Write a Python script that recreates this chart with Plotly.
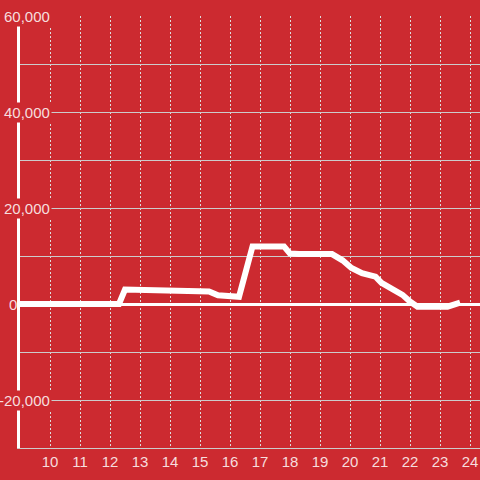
import plotly.graph_objects as go

BG_RED = "#cc2a30"
GRID_GREY = "#cccccc"
LABEL_COLOR = "rgba(255,255,255,0.85)"
FONT = "Liberation Sans, Arial"

# hour of day vs. value
hours = [
    9.0, 12.3, 12.5, 13.9, 14.0, 15.3, 15.6, 16.3, 16.75, 17.8, 18.0, 18.3,
    19.4, 19.75, 20.05, 20.4, 20.65, 20.85, 21.05, 21.4, 21.75, 22.0, 22.25,
    23.25, 23.55, 23.67,
]
values = [
    0, 0, 3000, 2900, 2600, 2600, 1800, 1500, 12000, 12000, 10500, 10400,
    10400, 9100, 7500, 6400, 6000, 5700, 4400, 3300, 1900, 500, -550,
    -550, 250, 300,
]

x_ticks = list(range(10, 25))
y_grid = list(range(-30000, 60001, 10000))
y_labels = [60000, 40000, 20000, -20000]

fig = go.Figure()
fig.add_trace(
    go.Scatter(
        x=hours,
        y=values,
        mode="lines",
        line=dict(color="white", width=6),
        hoverinfo="skip",
    )
)

# y labels sit inside the plot on a red patch that hides the lines behind them
annotations = []
for val in y_labels:
    annotations.append(
        dict(
            x=0,
            xref="paper",
            y=val,
            yref="y",
            text=f"{val:,}",
            showarrow=False,
            xanchor="right",
            xshift=32,
            bgcolor=BG_RED,
            borderpad=1,
            font=dict(family=FONT, size=15, color=LABEL_COLOR),
        )
    )
annotations.append(
    dict(
        x=0,
        xref="paper",
        y=0,
        yref="y",
        text="0",
        showarrow=False,
        xanchor="left",
        xshift=-13,
        font=dict(family=FONT, size=15, color=LABEL_COLOR),
    )
)

fig.update_layout(
    width=480,
    height=480,
    paper_bgcolor=BG_RED,
    plot_bgcolor=BG_RED,
    showlegend=False,
    margin=dict(l=20, r=0, t=16, b=32, autoexpand=False),
    annotations=annotations,
)
fig.update_xaxes(
    range=[9, 24.3333],
    tickvals=x_ticks,
    ticktext=[str(t) for t in x_ticks],
    showgrid=True,
    gridcolor="#dddddd",
    gridwidth=1,
    griddash="2px,2px",
    showline=True,
    linecolor=GRID_GREY,
    linewidth=1,
    zeroline=False,
    ticks="",
    automargin=False,
    tickfont=dict(family=FONT, size=15, color=LABEL_COLOR),
)
fig.update_yaxes(
    range=[-30000, 60000],
    tickvals=y_grid,
    showticklabels=False,
    showgrid=True,
    gridcolor=GRID_GREY,
    gridwidth=1,
    showline=True,
    linecolor="white",
    linewidth=3,
    zeroline=True,
    zerolinecolor="white",
    zerolinewidth=3,
    ticks="",
    automargin=False,
)

fig.write_html(
    "out.html",
    config={"displayModeBar": False},
    post_script="document.body.style.margin='0';",
)
